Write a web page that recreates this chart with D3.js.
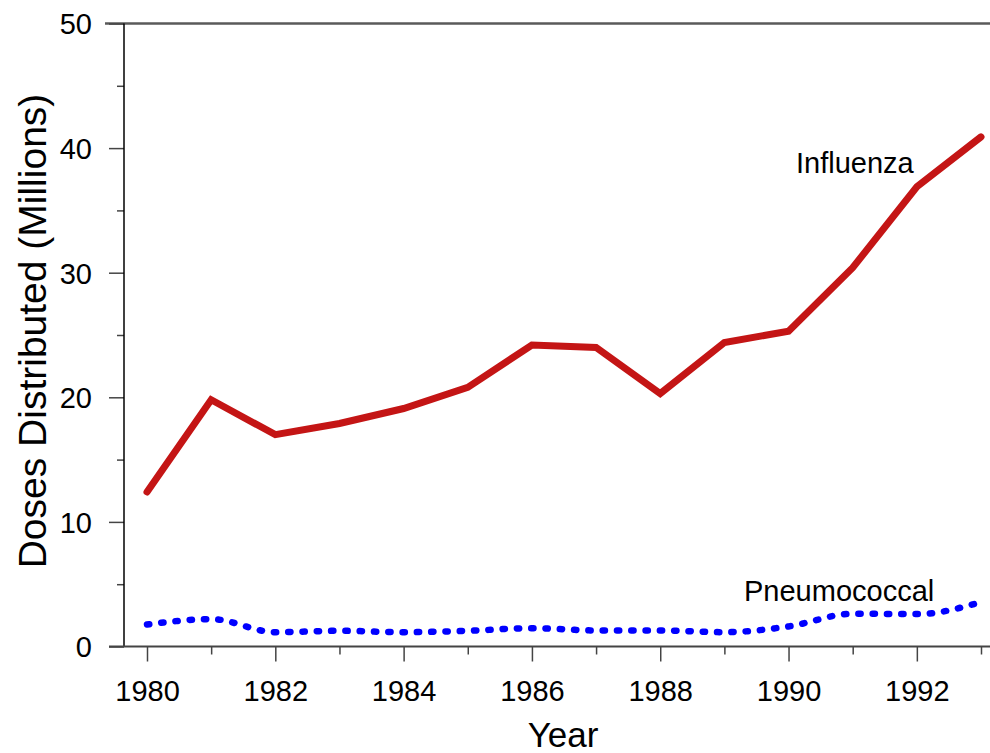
<!DOCTYPE html>
<html lang="en">
<head>
<meta charset="utf-8">
<title>Vaccine doses distributed</title>
<script src="https://d3js.org/d3.v7.min.js"></script>
<style>
  body { margin: 0; background: #fff; }
  text { font-family: "Liberation Sans", Arial, sans-serif; fill: #000; }
</style>
</head>
<body>
<script>
// data (millions of doses)
var years = [1980, 1981, 1982, 1983, 1984, 1985, 1986, 1987, 1988, 1989, 1990, 1991, 1992, 1993];
var influenza = [12.4, 19.8, 17.0, 17.9, 19.1, 20.8, 24.2, 24.0, 20.3, 24.4, 25.3, 30.4, 36.9, 40.9];
var pneumococcal = [1.77, 2.2, 1.15, 1.26, 1.15, 1.26, 1.47, 1.29, 1.29, 1.15, 1.61, 2.63, 2.6, 3.56];
var yMajor = [0, 10, 20, 30, 40, 50];
var yMinor = [5, 15, 25, 35, 45];
var xMajor = [1980, 1982, 1984, 1986, 1988, 1990, 1992];
var xMinor = [1981, 1983, 1985, 1987, 1989, 1991, 1993];

var W = 990, H = 753;
var svg = d3.select("body").append("svg").attr("width", W).attr("height", H);

var x = d3.scaleLinear().domain([1980, 1993]).range([147, 981]);
var y = d3.scaleLinear().domain([0, 50]).range([646.5, 23.5]);
var axisX = 124;

// top border line
svg.append("line")
  .attr("x1", 105).attr("x2", W)
  .attr("y1", y(50)).attr("y2", y(50))
  .attr("stroke", "#5a5a5a").attr("stroke-width", 2.5);

// y axis
var yMaj = svg.append("g").attr("transform", "translate(" + axisX + ",0)")
  .call(d3.axisLeft(y).tickValues(yMajor).tickSize(15).tickPadding(17).tickFormat(d3.format("d")));
var yMin = svg.append("g").attr("transform", "translate(" + axisX + ",0)")
  .call(d3.axisLeft(y).tickValues(yMinor).tickSize(7).tickFormat(""));
[yMaj, yMin].forEach(function(g) {
  g.select(".domain").remove();
  g.selectAll(".tick line").attr("stroke", "#444").attr("stroke-width", 1.5);
});
yMaj.selectAll(".tick text").style("font-size", "29px").style("font-family", "Liberation Sans, Arial, sans-serif").attr("dy", "0.36em");

svg.append("line")
  .attr("x1", axisX).attr("x2", axisX)
  .attr("y1", y(50)).attr("y2", y(0))
  .attr("stroke", "#000").attr("stroke-width", 1.5);

// x axis
var xMaj = svg.append("g").attr("transform", "translate(0," + y(0) + ")")
  .call(d3.axisBottom(x).tickValues(xMajor).tickSize(15).tickPadding(19).tickFormat(d3.format("d")));
var xMin = svg.append("g").attr("transform", "translate(0," + y(0) + ")")
  .call(d3.axisBottom(x).tickValues(xMinor).tickSize(8).tickFormat(""));
[xMaj, xMin].forEach(function(g) {
  g.select(".domain").remove();
  g.selectAll(".tick line").attr("stroke", "#444").attr("stroke-width", 1.5);
});
xMaj.selectAll(".tick text").style("font-size", "29px").style("font-family", "Liberation Sans, Arial, sans-serif");

svg.append("line")
  .attr("x1", 109).attr("x2", W)
  .attr("y1", y(0)).attr("y2", y(0))
  .attr("stroke", "#444").attr("stroke-width", 2);

// lines
var fluLine = d3.line()
  .x(function(d, i) { return x(years[i]); })
  .y(function(d) { return y(d); });

var pneuLine = d3.line()
  .x(function(d, i) { return x(years[i]); })
  .y(function(d) { return y(d); })
  .curve(d3.curveMonotoneX);

svg.append("path")
  .attr("d", pneuLine(pneumococcal))
  .attr("fill", "none")
  .attr("stroke", "#0000ff")
  .attr("stroke-width", 6.5)
  .attr("stroke-linecap", "round")
  .attr("stroke-dasharray", "2.3 12");

svg.append("path")
  .attr("d", fluLine(influenza))
  .attr("fill", "none")
  .attr("stroke", "#c41515")
  .attr("stroke-width", 7)
  .attr("stroke-linecap", "round")
  .attr("stroke-linejoin", "miter");

// series labels
svg.append("text").attr("x", 796).attr("y", 173)
  .style("font-size", "29px").text("Influenza");
svg.append("text").attr("x", 744).attr("y", 601)
  .style("font-size", "29px").text("Pneumococcal");

// axis titles
svg.append("text")
  .attr("x", 563).attr("y", 747)
  .attr("text-anchor", "middle")
  .style("font-size", "35px").text("Year");

svg.append("text")
  .attr("transform", "translate(46," + 331 + ") rotate(-90)")
  .attr("text-anchor", "middle")
  .style("font-size", "39px").text("Doses Distributed (Millions)");
</script>
</body>
</html>
